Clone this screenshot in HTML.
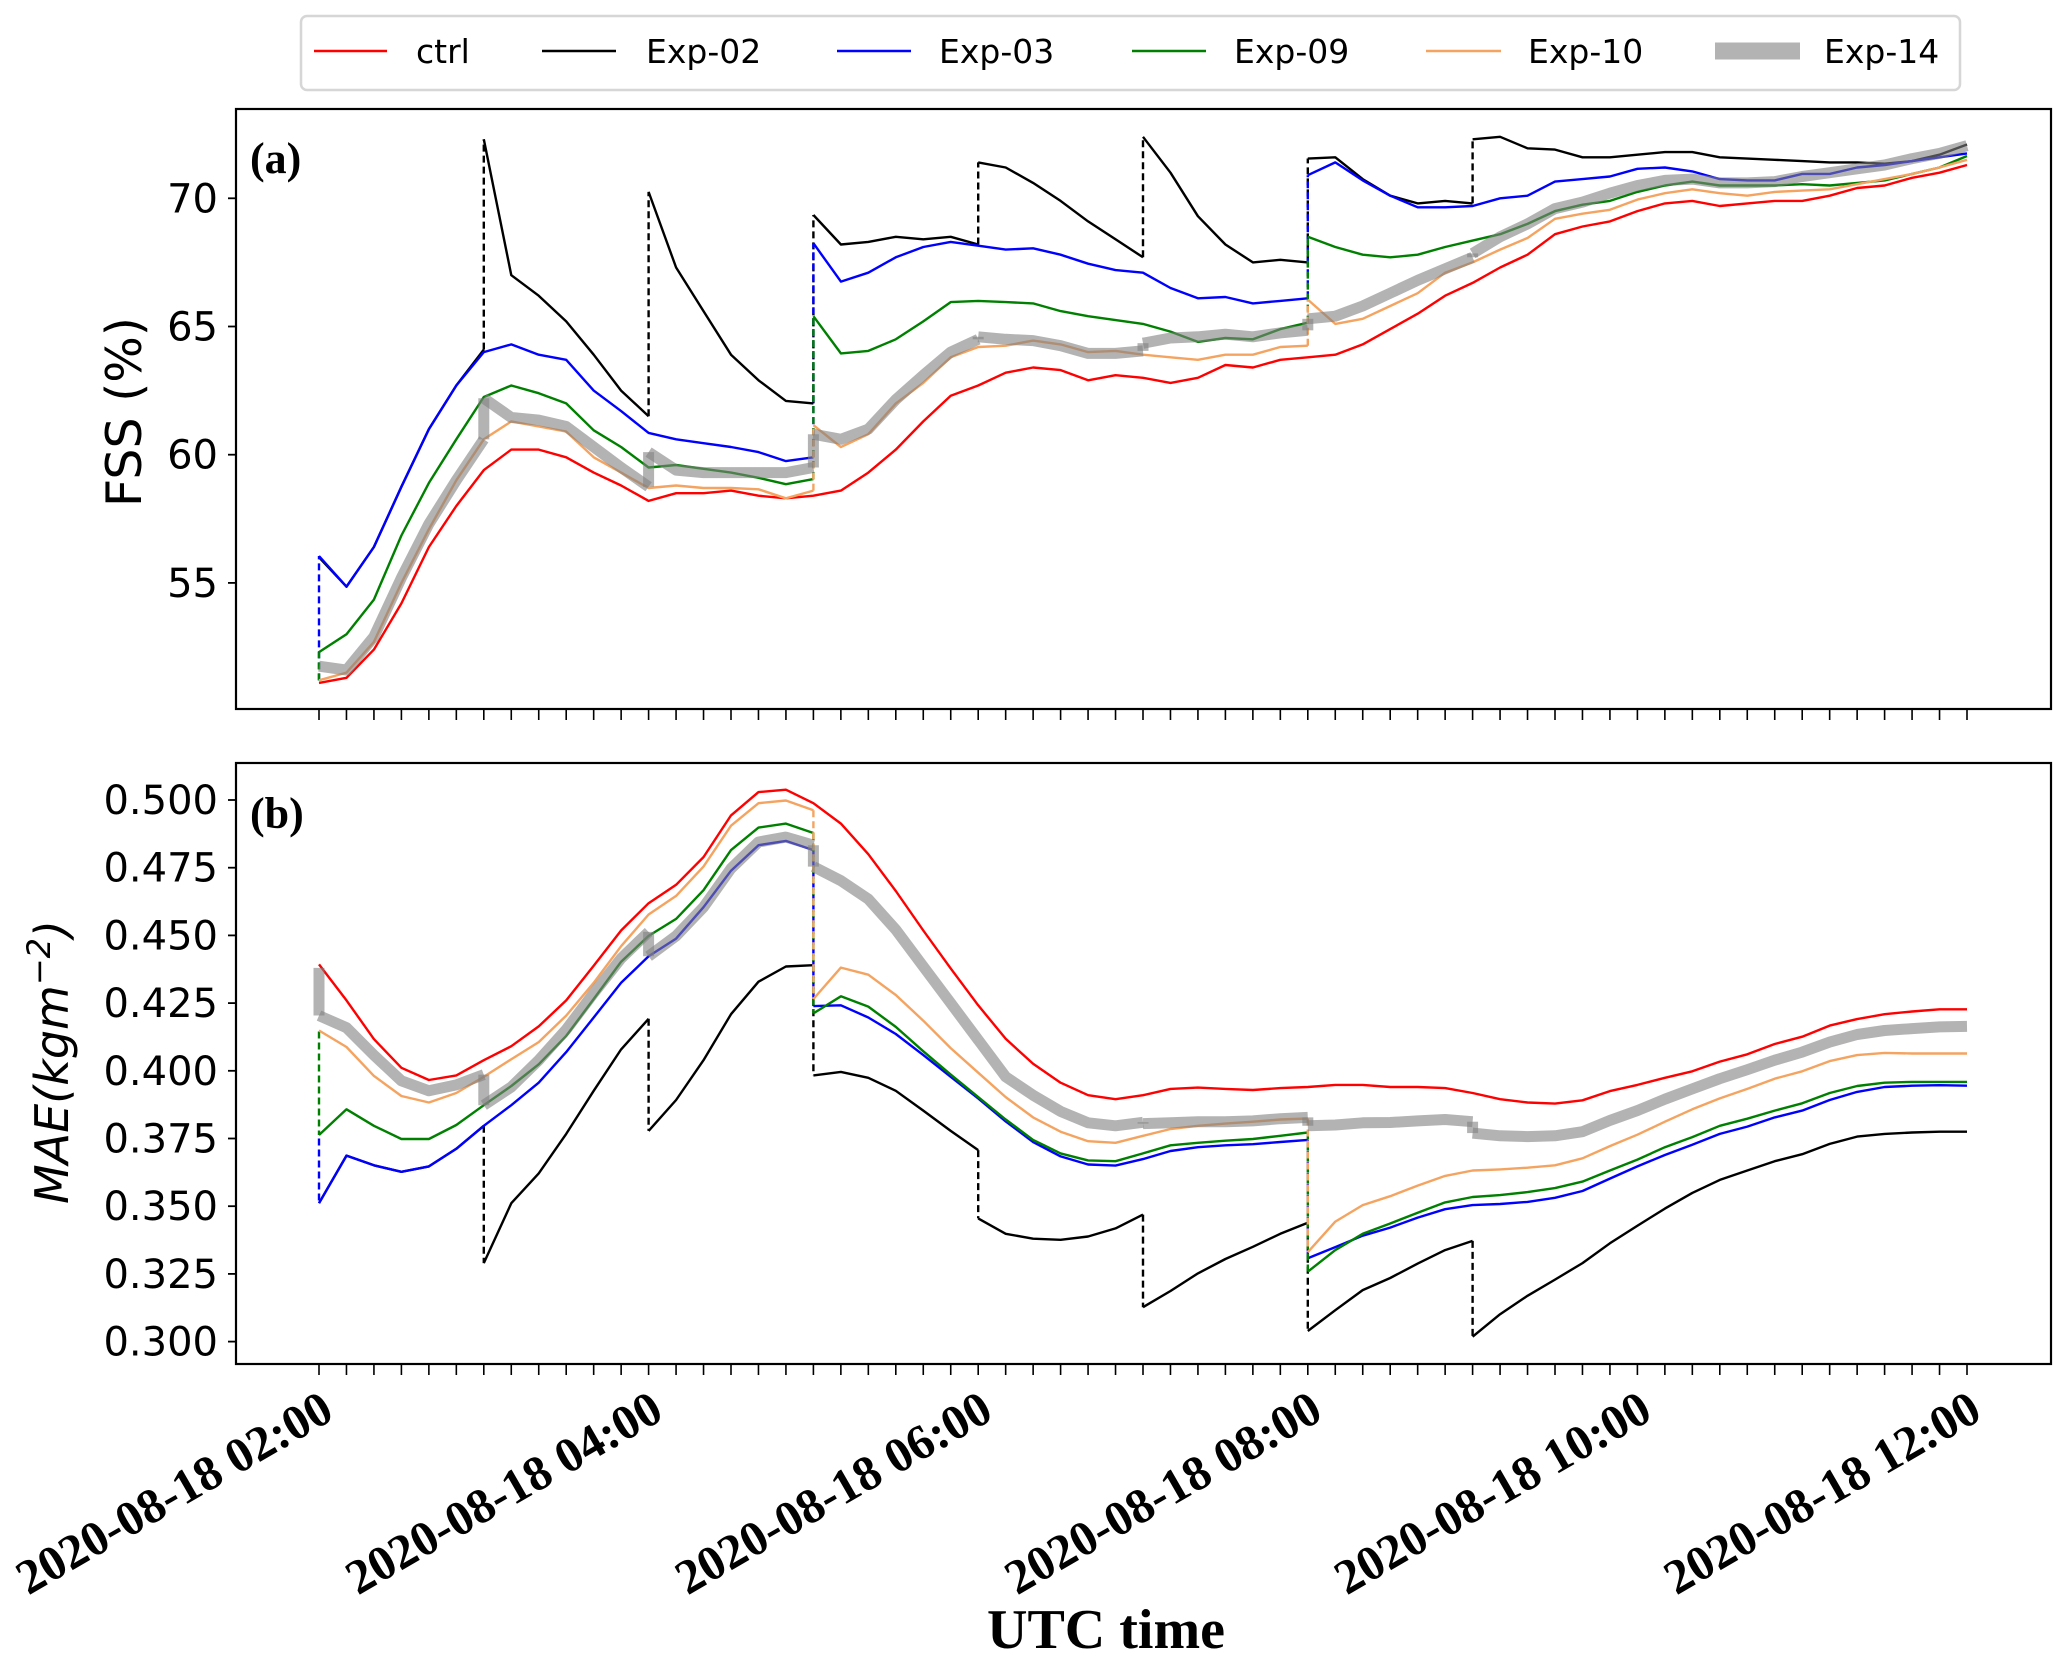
<!DOCTYPE html>
<html><head><meta charset="utf-8">
<style>
html,body{margin:0;padding:0;background:#fff;}
svg{display:block;}
text{font-family:"DejaVu Sans","Liberation Sans",sans-serif;}
</style></head>
<body>
<svg id="chart" xmlns="http://www.w3.org/2000/svg" width="2067" height="1667" viewBox="0 0 2067 1667">
<rect x="0" y="0" width="2067" height="1667" fill="#fff"/>
<g id="legend">
<rect x="301" y="16" width="1659" height="74" rx="6" fill="#fff" stroke="#d6d6d6" stroke-width="2.5"/>
<g><line x1="314" y1="51" x2="387" y2="51" stroke="#ff0000" stroke-width="2.5"/><text x="416" y="63" font-size="33">ctrl</text></g>
<g><line x1="542" y1="51" x2="616" y2="51" stroke="#000" stroke-width="2.5"/><text x="646" y="63" font-size="33">Exp-02</text></g>
<g><line x1="837" y1="51" x2="911" y2="51" stroke="#0000ff" stroke-width="2.5"/><text x="939" y="63" font-size="33">Exp-03</text></g>
<g><line x1="1132" y1="51" x2="1206" y2="51" stroke="#008000" stroke-width="2.5"/><text x="1234" y="63" font-size="33">Exp-09</text></g>
<g><line x1="1426" y1="51" x2="1501" y2="51" stroke="#f4a460" stroke-width="2.5"/><text x="1528" y="63" font-size="33">Exp-10</text></g>
<g><line x1="1715" y1="51" x2="1800" y2="51" stroke="#b3b3b3" stroke-width="17"/><text x="1824" y="63" font-size="33">Exp-14</text></g>
</g>
<g id="panelA"></g>
<g id="panelB"></g>
<g id="xaxis"></g>
<text x="1106" y="1648" font-size="56" font-weight="bold" text-anchor="middle" style="font-family:'Liberation Serif',serif">UTC time</text>
</svg>
<script>
// ---- data ----
const xTickLabels = ["2020-08-18 02:00","2020-08-18 04:00","2020-08-18 06:00","2020-08-18 08:00","2020-08-18 10:00","2020-08-18 12:00"];
const fssTicks = [55,60,65,70];
const maeTicks = [0.300,0.325,0.350,0.375,0.400,0.425,0.450,0.475,0.500];

const fssCtrl = [51.1,51.3,52.4,54.2,56.4,58.0,59.4,60.2,60.2,59.9,59.3,58.8,58.2,58.5,58.5,58.6,58.4,58.3,58.4,58.6,59.3,60.2,61.3,62.3,62.7,63.2,63.4,63.3,62.9,63.1,63.0,62.8,63.0,63.5,63.4,63.7,63.8,63.9,64.3,64.9,65.5,66.2,66.7,67.3,67.8,68.6,68.9,69.1,69.5,69.8,69.9,69.7,69.8,69.9,69.9,70.1,70.4,70.5,70.8,71.0,71.3];
const fssExp02Starts = [0,6,12,18,24,30,36,42];
const fssExp02 = [
 [56.0,54.85,56.4,58.75,61.0,62.7,64.1],
 [72.3,67.0,66.2,65.2,63.9,62.5,61.5],
 [70.25,67.3,65.6,63.9,62.9,62.1,62.0],
 [69.35,68.2,68.3,68.5,68.4,68.5,68.2],
 [71.4,71.2,70.6,69.9,69.1,68.4,67.7],
 [72.4,71.0,69.3,68.2,67.5,67.6,67.5],
 [71.55,71.6,70.75,70.1,69.8,69.9,69.8],
 [72.3,72.4,71.95,71.9,71.6,71.6,71.7,71.8,71.8,71.6,71.55,71.5,71.45,71.4,71.4,71.35,71.45,71.7,72.1]];
const fssExp03Starts = [0,18,36];
const fssExp03From = 51.2;
const fssExp03 = [
 [56.05,54.85,56.4,58.75,61.0,62.7,64.0,64.3,63.9,63.7,62.5,61.7,60.85,60.6,60.45,60.3,60.1,59.75,59.9],
 [68.25,66.75,67.1,67.7,68.1,68.3,68.15,68.0,68.05,67.8,67.45,67.2,67.1,66.5,66.1,66.15,65.9,66.0,66.1],
 [70.9,71.4,70.7,70.1,69.65,69.65,69.7,70.0,70.1,70.65,70.75,70.85,71.15,71.2,71.05,70.75,70.7,70.7,70.95,70.95,71.2,71.3,71.45,71.6,71.75]];
const fssExp09Starts = [0,18,36];
const fssExp09From = 51.2;
const fssExp09 = [
 [52.3,53.0,54.35,56.85,58.9,60.6,62.25,62.7,62.4,62.0,60.95,60.3,59.5,59.6,59.45,59.3,59.1,58.85,59.05],
 [65.4,63.95,64.05,64.5,65.2,65.95,66.0,65.95,65.9,65.6,65.4,65.25,65.1,64.8,64.4,64.55,64.5,64.9,65.15],
 [68.5,68.1,67.8,67.7,67.8,68.1,68.35,68.6,69.0,69.5,69.75,69.9,70.25,70.5,70.65,70.5,70.5,70.5,70.55,70.5,70.6,70.7,70.95,71.2,71.65]];
const fssExp10Starts = [0,18,36];
const fssExp10 = [
 [51.2,51.5,52.7,55.0,57.1,59.0,60.6,61.3,61.1,60.9,59.9,59.3,58.7,58.8,58.7,58.7,58.65,58.3,58.6],
 [61.15,60.3,60.8,62.0,62.8,63.8,64.2,64.25,64.45,64.3,64.0,64.05,63.9,63.8,63.7,63.9,63.9,64.2,64.25],
 [66.05,65.1,65.3,65.8,66.3,67.1,67.5,68.0,68.45,69.2,69.4,69.55,69.95,70.2,70.35,70.2,70.1,70.25,70.3,70.35,70.55,70.75,70.95,71.2,71.5]];
const fssExp14Starts = [0,6,12,18,24,30,36,42];
const fssExp14 = [
 [51.75,51.6,52.9,55.2,57.3,59.0,60.6],
 [62.2,61.45,61.35,61.1,60.3,59.5,58.75],
 [60.1,59.4,59.3,59.3,59.3,59.3,59.5],
 [60.8,60.6,61.0,62.15,63.1,64.0,64.5],
 [64.6,64.5,64.45,64.25,63.95,63.95,64.05],
 [64.35,64.55,64.6,64.7,64.6,64.75,64.85],
 [65.3,65.4,65.8,66.3,66.8,67.25,67.7],
 [67.85,68.5,69.0,69.6,69.85,70.2,70.5,70.7,70.75,70.6,70.6,70.65,70.85,71.0,71.15,71.3,71.55,71.75,72.05]];

const maeCtrl = [0.4393,0.426,0.4117,0.4011,0.3966,0.3983,0.4039,0.4091,0.4164,0.426,0.4388,0.4518,0.4619,0.4687,0.4789,0.4943,0.5029,0.5038,0.4988,0.4913,0.48,0.4664,0.4518,0.4378,0.4242,0.4118,0.4026,0.3956,0.391,0.3895,0.391,0.3933,0.3938,0.3933,0.3929,0.3936,0.394,0.3948,0.3948,0.394,0.394,0.3936,0.3918,0.3895,0.3883,0.3879,0.3891,0.3925,0.3948,0.3974,0.3998,0.4034,0.4061,0.4099,0.4126,0.4167,0.4191,0.4209,0.4219,0.4227,0.4227];
const maeExp02Starts = [0,6,12,18,24,30,36,42];
const maeExp02 = [
 [0.3511,0.3687,0.3651,0.3627,0.3647,0.3712,0.3797],
 [0.329,0.3511,0.3621,0.3767,0.3926,0.4079,0.4192],
 [0.3778,0.3892,0.4039,0.4209,0.4329,0.4385,0.439],
 [0.3983,0.3996,0.3974,0.3926,0.3853,0.3778,0.3707],
 [0.3455,0.3398,0.338,0.3376,0.3388,0.3418,0.3469],
 [0.3127,0.3187,0.3252,0.3305,0.335,0.3398,0.3439],
 [0.3039,0.3116,0.319,0.3235,0.3288,0.3338,0.3372],
 [0.3018,0.3101,0.3169,0.3229,0.329,0.3363,0.3428,0.3491,0.3549,0.3597,0.3632,0.3666,0.3692,0.373,0.3757,0.3767,0.3772,0.3775,0.3775]];
const maeExp03Starts = [0,18,36];
const maeExp03From = 0.375;
const maeExp03 = [
 [0.3511,0.3687,0.3651,0.3627,0.3647,0.3712,0.3797,0.3873,0.3956,0.4069,0.4197,0.4325,0.4423,0.4488,0.4604,0.4739,0.4833,0.4849,0.4815],
 [0.4239,0.4242,0.4197,0.4136,0.4058,0.3978,0.3898,0.3813,0.3737,0.3684,0.3654,0.365,0.3674,0.3704,0.3718,0.3725,0.3729,0.3737,0.3745],
 [0.3308,0.3349,0.3391,0.3421,0.3458,0.3489,0.3504,0.3508,0.3516,0.3531,0.3556,0.3602,0.3647,0.3689,0.3727,0.3767,0.3794,0.3828,0.3853,0.3892,0.3922,0.394,0.3945,0.3947,0.3945]];
const maeExp09Starts = [0,18,36];
const maeExp09From = 0.4145;
const maeExp09 = [
 [0.3763,0.3858,0.3797,0.3748,0.3748,0.38,0.3873,0.3944,0.4024,0.4129,0.4265,0.4403,0.4498,0.4561,0.4667,0.4815,0.4898,0.4913,0.4878],
 [0.4212,0.4275,0.4237,0.4162,0.4072,0.3986,0.3903,0.382,0.3745,0.3695,0.3669,0.3666,0.3695,0.3725,0.3734,0.3742,0.3748,0.376,0.3772],
 [0.3258,0.3338,0.3398,0.3436,0.3476,0.3514,0.3534,0.3541,0.3552,0.3567,0.3591,0.3632,0.3672,0.3718,0.3755,0.3797,0.3823,0.3853,0.388,0.3918,0.3944,0.3956,0.3959,0.3959,0.3959]];
const maeExp10Starts = [0,18,36];
const maeExp10 = [
 [0.4149,0.4088,0.3981,0.3907,0.3883,0.3918,0.3978,0.4043,0.4106,0.4204,0.4325,0.446,0.4577,0.4646,0.4754,0.4905,0.4988,0.4998,0.4962],
 [0.4265,0.4381,0.4355,0.428,0.4185,0.4084,0.3993,0.3903,0.3828,0.3775,0.374,0.3734,0.376,0.3785,0.3797,0.3805,0.3812,0.382,0.3824],
 [0.333,0.3443,0.3504,0.3537,0.3576,0.3612,0.3632,0.3636,0.3642,0.3651,0.3677,0.3722,0.3764,0.3812,0.3858,0.3898,0.3933,0.3971,0.3998,0.4036,0.4058,0.4066,0.4064,0.4064,0.4064]];
const maeExp14Starts = [0,6,12,18,24,30,36,42];
const maeExp14From = 0.438;
const maeExp14 = [
 [0.4204,0.4159,0.4058,0.3963,0.3926,0.3948,0.3986],
 [0.3873,0.394,0.4039,0.4152,0.4287,0.4415,0.4513],
 [0.4423,0.4498,0.4604,0.4747,0.4845,0.4863,0.4833],
 [0.4754,0.4702,0.4634,0.4521,0.4385,0.425,0.4114],
 [0.4114,0.3978,0.391,0.385,0.3808,0.3797,0.381],
 [0.3805,0.3808,0.3812,0.3812,0.3815,0.3823,0.3828],
 [0.3797,0.38,0.3808,0.3809,0.3815,0.382,0.3812],
 [0.377,0.376,0.3757,0.376,0.3775,0.3817,0.3853,0.3895,0.3933,0.3971,0.4004,0.4039,0.4069,0.4106,0.4134,0.4149,0.4156,0.4162,0.4164]];

// ---- geometry ----
const NS = "http://www.w3.org/2000/svg";
const L = 236, R = 2051;
const A = {top:109, bottom:709};
const B = {top:763, bottom:1364};
function xPos(i){ return 319 + i * (1967 - 319) / 60; }
function yA(v){ return 198.3 + (70 - v) * (128.2 / 5); }
function yB(v){ return 800 + (0.5 - v) * (541.6 / 0.2); }

function mk(tag, attrs, parent){
  const e = document.createElementNS(NS, tag);
  for (const k in attrs) e.setAttribute(k, attrs[k]);
  parent.appendChild(e);
  return e;
}
function pathFrom(s, vals, yf){
  return vals.map((v,k)=>(k?"L":"M")+xPos(s+k).toFixed(1)+","+yf(v).toFixed(1)).join(" ");
}
function drawSingle(g, vals, yf, color, name){
  const p = mk("path", {d:pathFrom(0, vals, yf), fill:"none", stroke:color, "stroke-width":2.4, "stroke-linejoin":"round"}, g);
  
  
}
function drawSegs(g, starts, segs, from, yf, color, width, opacity, grey, name){
  let prev = from;
  segs.forEach((vals, k)=>{
    const s = starts[k];
    if (prev !== null && prev !== undefined){
      const x = xPos(s);
      const j = mk("line", {x1:x, x2:x, y1:yf(prev), y2:yf(vals[0]), stroke:color, "stroke-width":width, "stroke-opacity":opacity}, g);
      if (!grey) j.setAttribute("stroke-dasharray", "7,4");
      
      
    }
    const p = mk("path", {d:pathFrom(s, vals, yf), fill:"none", stroke:color, "stroke-width":width, "stroke-opacity":opacity, "stroke-linejoin":"round", "stroke-linecap":"butt"}, g);
    
    
    prev = vals[vals.length - 1];
  });
}
function frame(g, P, name){
  const r = mk("rect", {x:L, y:P.top, width:R-L, height:P.bottom-P.top, fill:"none", stroke:"#000", "stroke-width":2.2}, g);
  
  
  for (let i=0;i<=60;i++){
    const t = mk("line", {x1:xPos(i), x2:xPos(i), y1:P.bottom, y2:P.bottom+11, stroke:"#000", "stroke-width":1.6}, g);
    
    
  }
}
function yTicks(g, ticks, yf, fmt){
  ticks.forEach(v=>{
    const y = yf(v);
    const t = mk("line", {x1:L-8, x2:L, y1:y, y2:y, stroke:"#000", "stroke-width":1.8}, g);
    
    
    const tx = mk("text", {x:L-18, y:y+14, "font-size":40, "text-anchor":"end"}, g);
    tx.textContent = fmt(v);
    
    
  });
}

// ---- panel A ----
const gA = document.getElementById("panelA");
yTicks(gA, fssTicks, yA, v=>String(v));
const labA = mk("text", {x:0, y:0, "font-size":49, "text-anchor":"middle", transform:"translate(141,412) rotate(-90)"}, gA);
labA.textContent = "FSS (%)";


drawSingle(gA, fssCtrl, yA, "#ff0000", "fss-ctrl-line");
drawSegs(gA, fssExp02Starts, fssExp02, null, yA, "#000000", 2.4, 1, false, "fss-exp02");
drawSegs(gA, fssExp03Starts, fssExp03, fssExp03From, yA, "#0000ff", 2.4, 1, false, "fss-exp03");
drawSegs(gA, fssExp09Starts, fssExp09, fssExp09From, yA, "#008000", 2.4, 1, false, "fss-exp09");
drawSegs(gA, fssExp10Starts, fssExp10, null, yA, "#f4a460", 2.4, 1, false, "fss-exp10");
drawSegs(gA, fssExp14Starts, fssExp14, null, yA, "#808080", 11, 0.6, true, "fss-exp14");
frame(gA, A, "fss-plot-frame");
const pa = mk("text", {x:250, y:173, "font-size":44, "font-weight":"bold", style:"font-family:'Liberation Serif',serif"}, gA);
pa.textContent = "(a)";



// ---- panel B ----
const gB = document.getElementById("panelB");
yTicks(gB, maeTicks, yB, v=>v.toFixed(3));
const labB = mk("text", {x:0, y:0, "font-size":46, "text-anchor":"middle", "font-style":"italic", transform:"translate(68,1062) rotate(-90)"}, gB);
labB.textContent = "MAE(kgm";
const sup = mk("tspan", {"font-size":32, dy:-18}, labB);
sup.textContent = "\u22122";
const cl = mk("tspan", {dy:18}, labB);
cl.textContent = ")";


drawSingle(gB, maeCtrl, yB, "#ff0000", "mae-ctrl-line");
drawSegs(gB, maeExp02Starts, maeExp02, null, yB, "#000000", 2.4, 1, false, "mae-exp02");
drawSegs(gB, maeExp03Starts, maeExp03, maeExp03From, yB, "#0000ff", 2.4, 1, false, "mae-exp03");
drawSegs(gB, maeExp09Starts, maeExp09, maeExp09From, yB, "#008000", 2.4, 1, false, "mae-exp09");
drawSegs(gB, maeExp10Starts, maeExp10, null, yB, "#f4a460", 2.4, 1, false, "mae-exp10");
drawSegs(gB, maeExp14Starts, maeExp14, maeExp14From, yB, "#808080", 11, 0.6, true, "mae-exp14");
frame(gB, B, "mae-plot-frame");
const pb = mk("text", {x:250, y:828, "font-size":44, "font-weight":"bold", style:"font-family:'Liberation Serif',serif"}, gB);
pb.textContent = "(b)";



// ---- x tick labels ----
const gX = document.getElementById("xaxis");
xTickLabels.forEach((lab, k)=>{
  const x = xPos(k * 12);
  const t = mk("text", {x:0, y:0, "font-size":49, "font-weight":"bold", "text-anchor":"end", style:"font-family:'Liberation Serif',serif", transform:"translate("+(x+17)+",1418) rotate(-30)"}, gX);
  t.textContent = lab;
  
  
});
</script>
</body></html>
